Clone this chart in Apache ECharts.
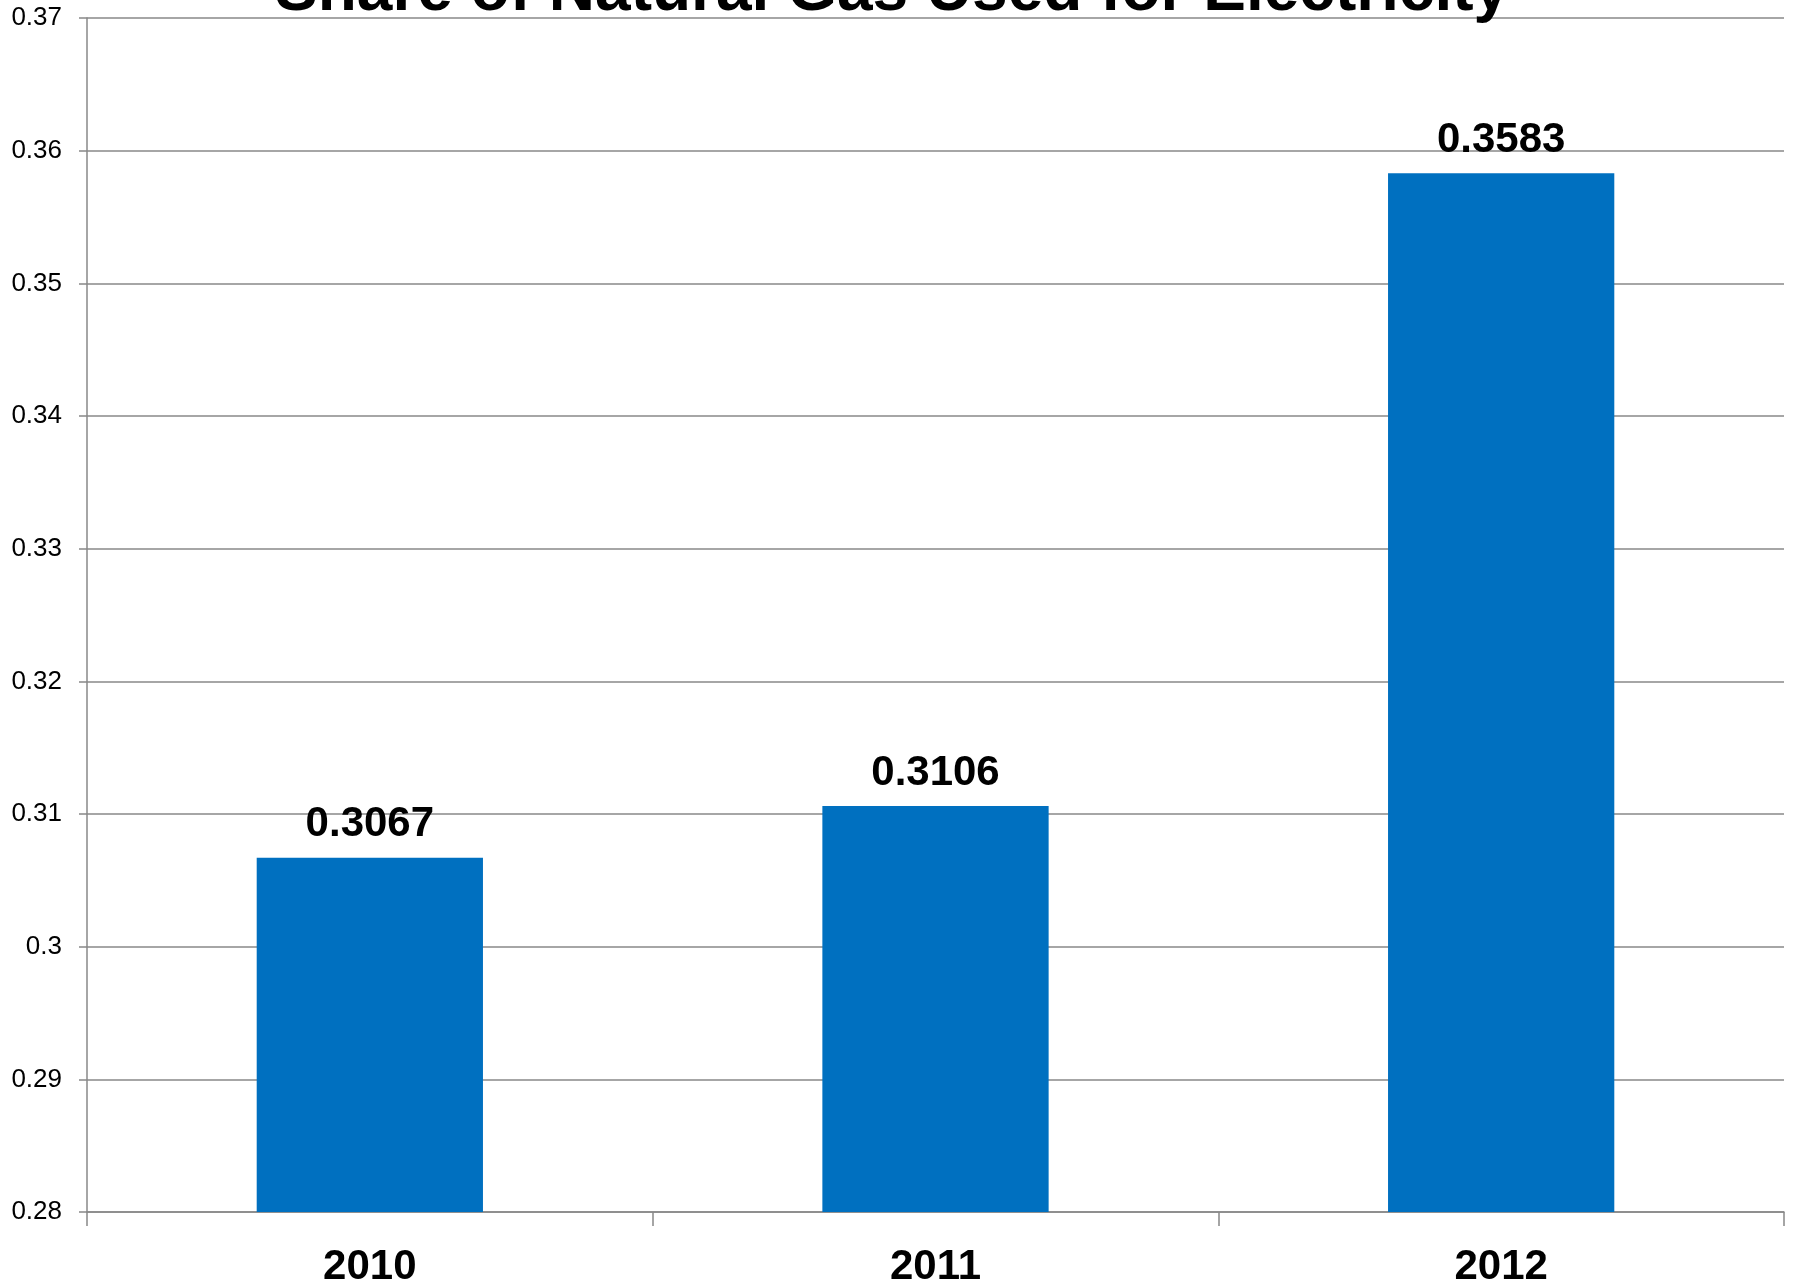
<!DOCTYPE html>
<html>
<head>
<meta charset="utf-8">
<script src="https://cdn.jsdelivr.net/npm/echarts@6/dist/echarts.min.js"></script>
<style>
  html, body { margin: 0; padding: 0; background: #ffffff; }
  #chart { width: 1795px; height: 1288px; }
</style>
</head>
<body>
<div id="chart"></div>
<script>
// Share of natural gas consumption that went to power generation, by year
const years = ['2010', '2011', '2012'];
const gasShare = [0.3067, 0.3106, 0.3583];

// Value axis range and step
const axisMin = 0.28;
const axisMax = 0.37;
const axisStep = 0.01;

const chartTitle = 'Share of Natural Gas Used for Electricity';

const FONT = '"Liberation Sans", Arial, Helvetica, sans-serif';
const GRID_GRAY = '#888888';

const chart = echarts.init(document.getElementById('chart'), null, { renderer: 'canvas' });

chart.setOption({
  backgroundColor: '#ffffff',
  animation: false,
  title: {
    text: chartTitle,
    left: 275,
    top: -40,
    padding: 0,
    textStyle: {
      fontFamily: FONT,
      fontSize: 64,
      fontWeight: 'bold',
      color: '#000000'
    }
  },
  grid: {
    left: 87,
    right: 11,
    top: 18,
    bottom: 74,
    containLabel: false
  },
  xAxis: {
    type: 'category',
    data: years,
    boundaryGap: true,
    axisLine: { show: true, lineStyle: { color: GRID_GRAY, width: 1.5 } },
    axisTick: { show: true, length: 14, inside: false, lineStyle: { color: GRID_GRAY, width: 1.5 } },
    axisLabel: {
      margin: 34,
      fontFamily: FONT,
      fontSize: 42,
      fontWeight: 'bold',
      color: '#000000'
    },
    splitLine: { show: false }
  },
  yAxis: {
    type: 'value',
    min: axisMin,
    max: axisMax,
    interval: axisStep,
    axisLine: { show: true, lineStyle: { color: GRID_GRAY, width: 1.5 } },
    axisTick: { show: true, length: 8, inside: false, lineStyle: { color: GRID_GRAY, width: 1.5 } },
    axisLabel: {
      margin: 25,
      fontFamily: FONT,
      fontSize: 26,
      color: '#000000',
      formatter: function (v) { return String(parseFloat(v.toFixed(2))); }
    },
    splitLine: { show: true, lineStyle: { color: GRID_GRAY, width: 1.5 } }
  },
  series: [{
    type: 'bar',
    data: gasShare,
    barWidth: '40%',
    itemStyle: { color: '#0070C0' },
    label: {
      show: true,
      position: 'top',
      distance: 12,
      fontFamily: FONT,
      fontSize: 42,
      fontWeight: 'bold',
      color: '#000000',
      formatter: function (p) { return p.value.toFixed(4); }
    }
  }]
});
</script>
</body>
</html>
